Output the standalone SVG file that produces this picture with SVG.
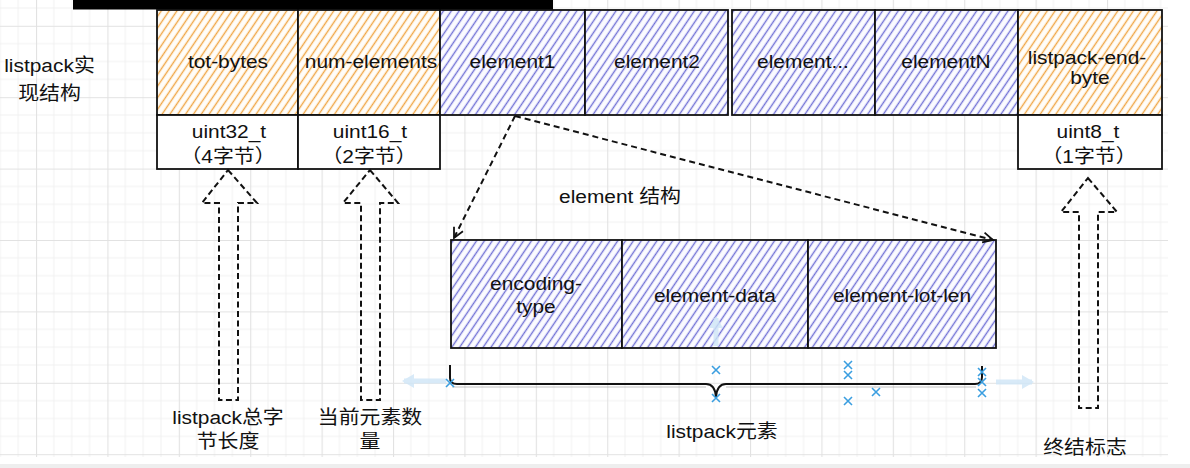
<svg xmlns="http://www.w3.org/2000/svg" width="1190" height="468" viewBox="0 0 1190 468">
<style>
.lbl{font-family:"Liberation Sans","Noto Sans CJK SC",sans-serif;font-size:19px;fill:#111;text-anchor:middle;transform-box:fill-box;transform-origin:center;transform:scaleX(1.1);}
.box{stroke:#111;stroke-width:1.8;}
.or{fill:url(#hOr);}
.bl{fill:url(#hBl);}
.wh{fill:#fff;}
.dash{fill:none;stroke:#111;stroke-width:2;stroke-dasharray:6 4;}
.hollow{fill:none;stroke:#111;stroke-width:2;stroke-dasharray:6 3.5;stroke-linejoin:miter;}
.xm{stroke:#3a9ee0;stroke-width:1.6;fill:none;}
.ghost{stroke:#cfe6f7;stroke-width:5;fill:none;opacity:0.8;}
</style>
<defs>
<pattern id="grid" width="71.4" height="71.4" patternUnits="userSpaceOnUse" x="36" y="25.8">
<path d="M17.85 0V71.4M35.7 0V71.4M53.55 0V71.4M0 17.85H71.4M0 35.7H71.4M0 53.55H71.4" stroke="#f1f1f1" stroke-width="1"/>
<path d="M0.5 0V71.4M0 0.5H71.4" stroke="#e2e2e2" stroke-width="1.2"/>
</pattern>
<pattern id="hOr" width="6.5" height="6.5" patternUnits="userSpaceOnUse" patternTransform="rotate(34)">
<rect width="6.5" height="6.5" fill="#fffdf9"/>
<line x1="3.25" y1="0" x2="3.25" y2="6.5" stroke="#f0a645" stroke-width="1.4"/>
</pattern>
<pattern id="hBl" width="6.5" height="6.5" patternUnits="userSpaceOnUse" patternTransform="rotate(34)">
<rect width="6.5" height="6.5" fill="#fbfbff"/>
<line x1="3.25" y1="0" x2="3.25" y2="6.5" stroke="#7272d6" stroke-width="1.4"/>
</pattern>
<marker id="open" markerWidth="14" markerHeight="14" refX="11" refY="7" orient="auto" markerUnits="userSpaceOnUse">
<path d="M1 2 L11 7 L1 12" fill="none" stroke="#111" stroke-width="1.8"/>
</marker>
<marker id="ghostHead" markerWidth="16" markerHeight="16" refX="10" refY="8" orient="auto" markerUnits="userSpaceOnUse">
<path d="M0 1 L12 8 L0 15 Z" fill="#cfe6f7"/>
</marker>
</defs>

<rect x="0" y="0" width="1190" height="468" fill="#fff"/>
<rect x="0" y="0" width="1168" height="457" fill="url(#grid)"/>
<rect x="0" y="464" width="1190" height="4" fill="#eeeeee"/>

<g id="side-label">
<text class="lbl" x="49.5" y="72">listpack实</text>
<text class="lbl" x="49.5" y="100">现结构</text>
</g>

<g id="tot-bytes">
<rect class="box or" x="157" y="10" width="141" height="105"/>
<text class="lbl" x="228" y="68">tot-bytes</text>
<rect class="box wh" x="157" y="115" width="141" height="54"/>
<text class="lbl" x="229" y="138">uint32_t</text>
<text class="lbl" x="228" y="163">（4字节）</text>
</g>

<g id="num-elements">
<rect class="box or" x="298" y="10" width="142" height="105"/>
<text class="lbl" x="371" y="68">num-elements</text>
<rect class="box wh" x="298" y="115" width="142" height="54"/>
<text class="lbl" x="370" y="138">uint16_t</text>
<text class="lbl" x="369" y="163">（2字节）</text>
</g>

<g id="element1">
<rect class="box bl" x="440" y="10" width="145" height="105"/>
<text class="lbl" x="512.5" y="68">element1</text>
</g>
<g id="element2">
<rect class="box bl" x="585" y="10" width="143" height="105"/>
<text class="lbl" x="657" y="68">element2</text>
</g>
<g id="element-dots">
<rect class="box bl" x="732" y="10" width="143" height="105"/>
<text class="lbl" x="803" y="68">element...</text>
</g>
<g id="elementN">
<rect class="box bl" x="875" y="10" width="143" height="105"/>
<text class="lbl" x="946" y="68">elementN</text>
</g>

<g id="listpack-end-byte">
<rect class="box or" x="1018" y="10" width="144" height="105"/>
<text class="lbl" x="1087" y="64">listpack-end-</text>
<text class="lbl" x="1090" y="84">byte</text>
<rect class="box wh" x="1018" y="115" width="144" height="54"/>
<text class="lbl" x="1088" y="138">uint8_t</text>
<text class="lbl" x="1089" y="163">（1字节）</text>
</g>

<rect x="73" y="0" width="480" height="9.5" fill="#000"/>

<g id="element-struct-title">
<text class="lbl" x="620" y="203">element 结构</text>
</g>

<g id="encoding-type">
<rect class="box bl" x="451" y="240" width="171" height="108"/>
<text class="lbl" x="536" y="290">encoding-</text>
<text class="lbl" x="536" y="313">type</text>
</g>
<g id="element-data">
<rect class="box bl" x="622" y="240" width="186" height="108"/>
<text class="lbl" x="715" y="302">element-data</text>
</g>
<g id="element-lot-len">
<rect class="box bl" x="808" y="240" width="188" height="108"/>
<text class="lbl" x="902" y="302">element-lot-len</text>
</g>

<g id="connectors">
<path class="dash" d="M515 116 L454 238" marker-end="url(#open)"/>
<path class="dash" d="M515 116 L993 240" marker-end="url(#open)"/>
<path class="hollow" d="M228 170 L257 203 L238 203 L238 400 L219 400 L219 203 L202 203 Z"/>
<path class="hollow" d="M370 170 L398 203 L380 203 L380 400 L361 400 L361 203 L343 203 Z"/>
<path class="hollow" d="M1088 178 L1117 212 L1098 212 L1098 408 L1079 408 L1079 212 L1061 212 Z"/>
</g>

<g id="brace">
<path d="M450 365 L450 378 Q450 384 457 384 L706 384 Q715 384 716 397 Q717 384 726 384 L975 384 Q982 384 982 377 L982 366" fill="none" stroke="#111" stroke-width="2"/>
<path d="M452 387 L706 387 M726 387 L976 387" fill="none" stroke="#999" stroke-width="1" opacity="0.6"/>
</g>

<g id="selection-artifacts">
<path class="ghost" d="M446 381 L404 381" marker-end="url(#ghostHead)"/>
<path class="ghost" d="M996 382 L1032 382" marker-end="url(#ghostHead)"/>
<path class="ghost" d="M716 346 L716 318" opacity="0.5" marker-end="url(#ghostHead)"/>
<path class="xm" d="M446 379l8 8m0 -8l-8 8"/>
<path class="xm" d="M712 366l8 8m0 -8l-8 8"/>
<path class="xm" d="M712 394l8 8m0 -8l-8 8"/>
<path class="xm" d="M844 361l8 8m0 -8l-8 8"/>
<path class="xm" d="M844 371l8 8m0 -8l-8 8"/>
<path class="xm" d="M844 397l8 8m0 -8l-8 8"/>
<path class="xm" d="M872 388l8 8m0 -8l-8 8"/>
<path class="xm" d="M978 368l8 8m0 -8l-8 8"/>
<path class="xm" d="M978 378l8 8m0 -8l-8 8"/>
<path class="xm" d="M978 389l8 8m0 -8l-8 8"/>
</g>

<g id="labels">
<text class="lbl" x="228" y="424">listpack总字</text>
<text class="lbl" x="228" y="448">节长度</text>
<text class="lbl" x="370" y="424">当前元素数</text>
<text class="lbl" x="370" y="448">量</text>
<text class="lbl" x="722" y="438">listpack元素</text>
<text class="lbl" x="1085" y="454">终结标志</text>
</g>
</svg>
